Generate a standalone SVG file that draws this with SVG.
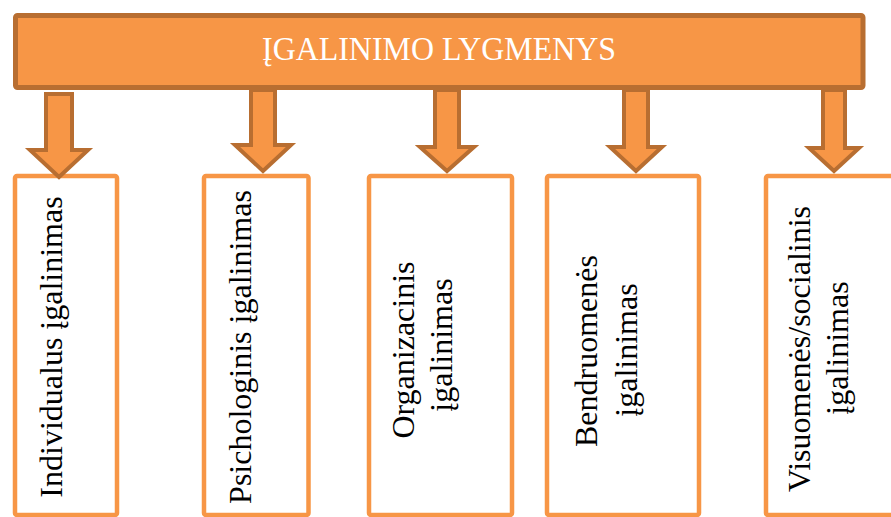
<svg xmlns="http://www.w3.org/2000/svg" width="891" height="517" viewBox="0 0 891 517">
  <style>
    .banner { fill: #F79646; stroke: #B86E31; stroke-width: 5; }
    .box { fill: #FFFFFF; stroke: #F79646; stroke-width: 4.5; }
    .arrow { fill: #F79646; stroke: #B86E31; stroke-width: 4; stroke-linejoin: miter; }
    .title { font-family: "Liberation Serif", "Times New Roman", serif; font-size: 34px; fill: #FFFFFF; }
    .label { font-family: "Liberation Serif", "Times New Roman", serif; font-size: 32px; fill: #000000; text-anchor: middle; }
  </style>

  <rect width="891" height="517" fill="#FFFFFF"/>

  <!-- level boxes -->
  <g id="node-individualus">
    <rect class="box" x="15" y="176" width="102" height="339" rx="2"/>
    <text class="label" transform="translate(62,347) rotate(-90)">Individualus įgalinimas</text>
  </g>
  <g id="node-psichologinis">
    <rect class="box" x="204" y="176" width="104.5" height="339" rx="2"/>
    <text class="label" transform="translate(251,347) rotate(-90)">Psichologinis įgalinimas</text>
  </g>
  <g id="node-organizacinis">
    <rect class="box" x="369" y="176" width="143" height="339" rx="2"/>
    <text class="label" transform="translate(414,350) rotate(-90)">Organizacinis</text>
    <text class="label" transform="translate(452,345) rotate(-90)">įgalinimas</text>
  </g>
  <g id="node-bendruomenes">
    <rect class="box" x="547" y="176" width="152" height="339" rx="2"/>
    <text class="label" transform="translate(597,351) rotate(-90)">Bendruomenės</text>
    <text class="label" transform="translate(637,350) rotate(-90)">įgalinimas</text>
  </g>
  <g id="node-visuomenes">
    <rect class="box" x="766" y="176" width="140" height="339" rx="2"/>
    <text class="label" transform="translate(810,349) rotate(-90)">Visuomenės/socialinis</text>
    <text class="label" transform="translate(848,348) rotate(-90)">įgalinimas</text>
  </g>

  <!-- block arrows from the header to each level -->
  <g id="connectors">
    <path class="arrow" d="M46,94 H72 V150 H88 L59,177 L30,150 H46 Z"/>
    <path class="arrow" d="M251,90 H275 V145 H291 L263,171 L235,145 H251 Z"/>
    <path class="arrow" d="M435,90 H459 V147 H474 L447,171 L420,147 H435 Z"/>
    <path class="arrow" d="M624,90 H648 V147 H662 L636,171 L610,147 H624 Z"/>
    <path class="arrow" d="M823,90 H845 V148 H859 L834,171 L809,148 H823 Z"/>
  </g>

  <!-- header -->
  <g id="node-header">
    <rect class="banner" x="15.5" y="15.5" width="847.5" height="72" rx="2"/>
    <text class="title" x="262" y="60" textLength="354" lengthAdjust="spacingAndGlyphs">ĮGALINIMO LYGMENYS</text>
  </g>
</svg>
